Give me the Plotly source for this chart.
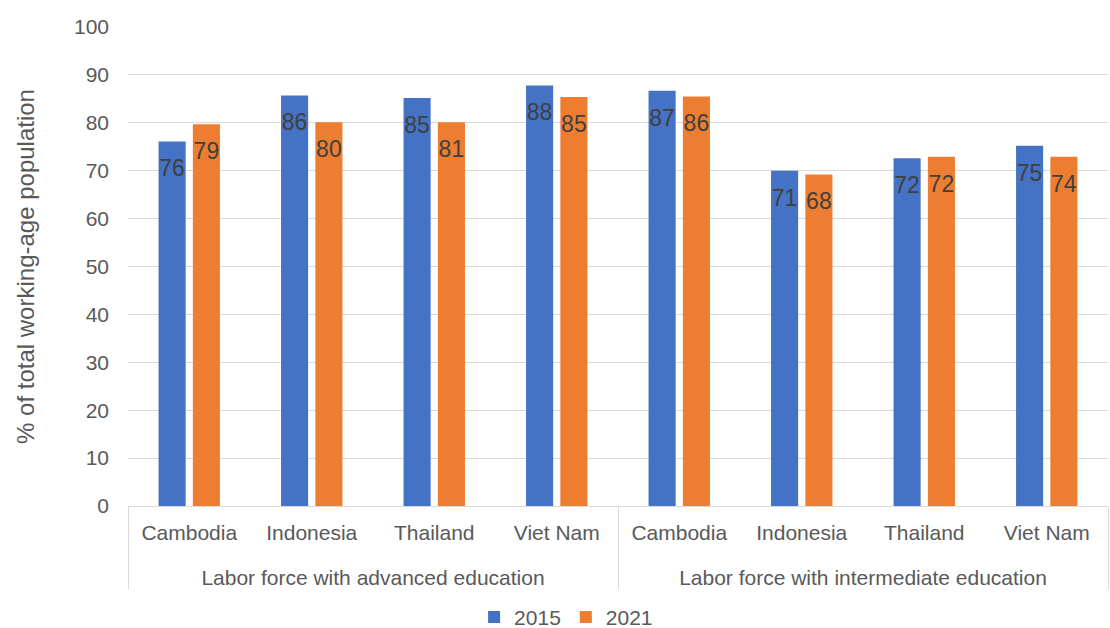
import plotly.graph_objects as go

groups = ["<br>Labor force with advanced education"] * 4 + ["<br>Labor force with intermediate education"] * 4
countries = ["Cambodia", "Indonesia", "Thailand", "Viet Nam"] * 2
values_2015 = [76.1, 85.7, 85.2, 87.8, 86.7, 70.0, 72.6, 75.2]
values_2021 = [79.7, 80.1, 80.1, 85.4, 85.5, 69.2, 72.9, 72.9]
labels_2015 = ["76", "86", "85", "88", "87", "71", "72", "75"]
labels_2021 = ["79", "80", "81", "85", "86", "68", "72", "74"]
y_ticks = [0, 10, 20, 30, 40, 50, 60, 70, 80, 90, 100]

FONT = "Liberation Sans, Arial, sans-serif"
SPACER = "<span style='font-size:2px'>&nbsp;</span><br>"

fig = go.Figure()
for name, vals, labs, col in [("2015", values_2015, labels_2015, "#4472C4"),
                              ("2021", values_2021, labels_2021, "#ED7D31")]:
    fig.add_trace(go.Bar(
        name=name, x=[groups, countries], y=vals,
        text=[SPACER + t for t in labs], textposition="inside", insidetextanchor="end",
        textangle=0, constraintext="none", cliponaxis=False,
        textfont=dict(size=23, color="#404040", family=FONT),
        marker=dict(color=col, line=dict(width=0)),
    ))

fig.update_layout(
    width=1110, height=628,
    margin=dict(l=128, r=2, t=27, b=122),
    paper_bgcolor="white", plot_bgcolor="white",
    font=dict(family=FONT, color="#595959", size=21),
    barmode="group", bargap=0.44, bargroupgap=0.21,
    uniformtext=dict(mode=False),
    legend=dict(
        orientation="h", xref="container", x=0.51, xanchor="center",
        yref="container", y=0.017, yanchor="middle",
        font=dict(size=21, color="#595959"),
        itemwidth=30, traceorder="normal",
    ),
    showlegend=True,
)
fig.update_yaxes(
    range=[0, 100], tickvals=y_ticks, showgrid=True, gridcolor="#d9d9d9", gridwidth=1,
    zeroline=False, showline=False, ticks="", ticklabelstandoff=18,
    tickfont=dict(size=21, color="#595959"),
    title=dict(text="% of total working-age population", font=dict(size=24, color="#595959"), standoff=32),
)
fig.update_xaxes(
    type="multicategory", showline=True, linecolor="#d9d9d9", linewidth=1,
    showdividers=True, dividercolor="#d9d9d9", dividerwidth=1,
    ticks="", ticklabelstandoff=8, tickfont=dict(size=21, color="#595959"),
)

fig.write_html("out.html")
